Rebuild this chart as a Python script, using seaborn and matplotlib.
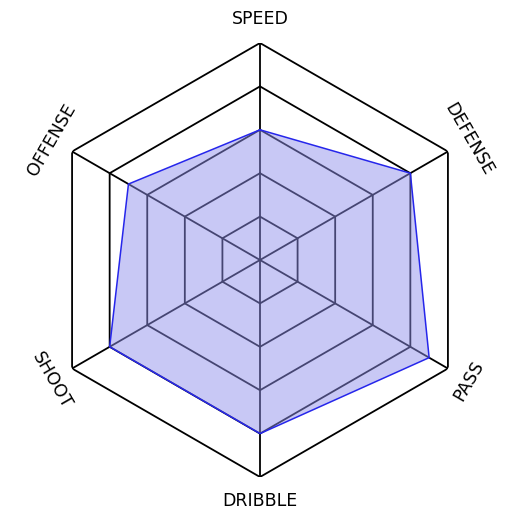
import numpy as np
import pandas as pd
import matplotlib
matplotlib.use("Agg")
import matplotlib.pyplot as plt
import seaborn as sns

# --- data ---------------------------------------------------------------------
categories = ["SPEED", "DEFENSE", "PASS", "DRIBBLE", "SHOOT", "OFFENSE"]
values = [60, 80, 90, 80, 80, 70]
ring_levels = [20, 40, 60, 80, 100]
label_rotation = [0, -60, 60, 0, -60, 60]

sns.set_style("white")
plt.rcParams["font.family"] = ["DejaVu Sans"]

n = len(categories)
theta = np.linspace(0, 2 * np.pi, n, endpoint=False)
# close the polygon at 2*pi (not 0) so seaborn doesn't merge the duplicate x
theta_closed = np.append(theta, 2 * np.pi)

fig = plt.figure(figsize=(5.2, 5.17), dpi=100)
ax = fig.add_axes([43 / 520, 40 / 517, 434 / 520, 434 / 517], projection="polar")
ax.set_theta_offset(np.pi / 2)
ax.set_theta_direction(-1)
ax.set_ylim(0, 100)
ax.grid(False)
ax.spines["polar"].set_visible(False)
ax.set_xticks([])
ax.set_yticks([])

# hexagon rings and spokes
for lvl in ring_levels:
    ax.plot(theta_closed, [lvl] * (n + 1), color="black", lw=1.3, zorder=1)
for t in theta:
    ax.plot([t, t], [0, ring_levels[-1]], color="black", lw=1.3, zorder=1)

# data polygon
df = pd.DataFrame({"theta": theta_closed, "value": values + values[:1]})
ax.fill(df["theta"], df["value"], color=(0.56, 0.56, 0.92), alpha=0.49, lw=0, zorder=2)
sns.lineplot(data=df, x="theta", y="value", sort=False, estimator=None,
             color=(0.15, 0.15, 0.92), lw=1.1, ax=ax, zorder=3)
ax.set_xlabel("")
ax.set_ylabel("")

# axis labels
for t, name, rot in zip(theta, categories, label_rotation):
    ax.text(t, 111, name, ha="center", va="center", rotation=rot,
            rotation_mode="anchor", fontsize=12.5, color="black")

fig.savefig("out.png", dpi=100)
